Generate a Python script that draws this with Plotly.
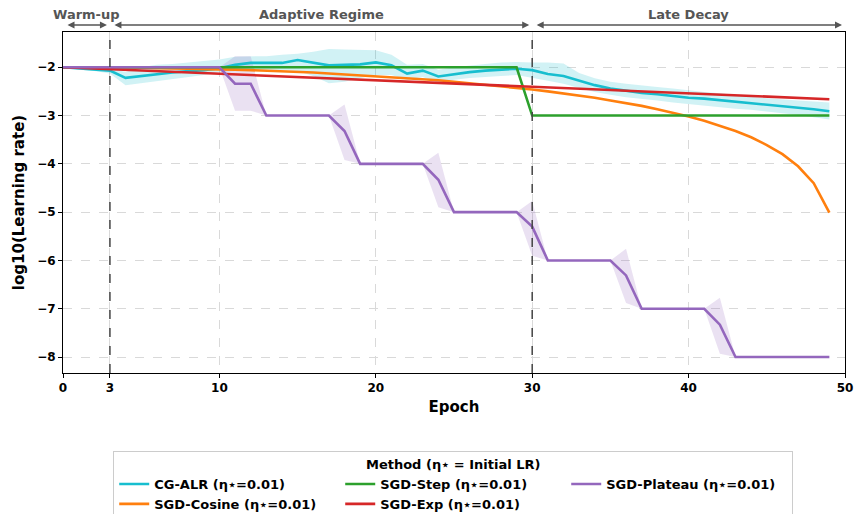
import plotly.graph_objects as go

# ---------------- data ----------------
epochs = list(range(50))

cg_alr = [-2.00, -2.02, -2.04, -2.07, -2.22, -2.18, -2.14, -2.11, -2.08, -2.06,
          -2.02, -1.95, -1.91, -1.91, -1.91, -1.85, -1.90, -1.96, -1.95, -1.94,
          -1.90, -1.96, -2.13, -2.07, -2.19, -2.14, -2.10, -2.07, -2.05, -2.03,
          -2.06, -2.14, -2.18, -2.27, -2.37, -2.44, -2.49, -2.53, -2.56, -2.60,
          -2.63, -2.65, -2.68, -2.71, -2.74, -2.77, -2.80, -2.83, -2.87, -2.91]
cg_upper = [-1.98, -1.98, -1.99, -2.02, -2.10, -2.00, -1.95, -1.93, -1.90, -1.87,
            -1.84, -1.78, -1.78, -1.77, -1.74, -1.72, -1.68, -1.62, -1.63, -1.64,
            -1.65, -1.74, -1.95, -1.93, -2.05, -2.00, -1.96, -1.93, -1.90, -1.89,
            -1.90, -1.90, -1.92, -2.12, -2.23, -2.30, -2.34, -2.38, -2.41, -2.44,
            -2.48, -2.51, -2.54, -2.58, -2.61, -2.64, -2.67, -2.69, -2.71, -2.73]
cg_lower = [-2.02, -2.05, -2.08, -2.13, -2.37, -2.33, -2.28, -2.24, -2.20, -2.16,
            -2.10, -2.08, -2.05, -2.06, -2.06, -2.08, -2.18, -2.33, -2.30, -2.22,
            -2.16, -2.16, -2.26, -2.20, -2.32, -2.26, -2.22, -2.20, -2.18, -2.16,
            -2.22, -2.28, -2.34, -2.43, -2.51, -2.57, -2.62, -2.66, -2.69, -2.73,
            -2.76, -2.79, -2.83, -2.86, -2.88, -2.91, -2.95, -2.99, -3.03, -3.08]

sgd_cosine = [-2.00, -2.00, -2.00, -2.00, -2.01, -2.01, -2.02, -2.02, -2.03, -2.04,
              -2.04, -2.05, -2.06, -2.07, -2.09, -2.10, -2.11, -2.13, -2.15, -2.16,
              -2.18, -2.20, -2.23, -2.25, -2.27, -2.30, -2.33, -2.36, -2.39, -2.43,
              -2.46, -2.50, -2.54, -2.59, -2.63, -2.69, -2.74, -2.80, -2.87, -2.94,
              -3.02, -3.11, -3.21, -3.32, -3.45, -3.61, -3.80, -4.05, -4.40, -5.01]

sgd_step = [-2.0] * 30 + [-3.0] * 20

sgd_exp = [-2.000, -2.013, -2.027, -2.040, -2.054, -2.067, -2.081, -2.094, -2.108, -2.121,
           -2.135, -2.148, -2.162, -2.175, -2.189, -2.202, -2.216, -2.229, -2.243, -2.256,
           -2.270, -2.283, -2.297, -2.310, -2.324, -2.337, -2.351, -2.364, -2.378, -2.391,
           -2.405, -2.418, -2.432, -2.445, -2.459, -2.472, -2.486, -2.499, -2.513, -2.526,
           -2.540, -2.553, -2.567, -2.580, -2.594, -2.607, -2.621, -2.634, -2.648, -2.661]

sgd_plateau = [-2.00, -2.00, -2.00, -2.00, -2.00, -2.00, -2.00, -2.00, -2.00, -2.00,
               -2.00, -2.34, -2.34, -3.00, -3.00, -3.00, -3.00, -3.00, -3.32, -4.00,
               -4.00, -4.00, -4.00, -4.00, -4.33, -5.00, -5.00, -5.00, -5.00, -5.00,
               -5.30, -6.00, -6.00, -6.00, -6.00, -6.00, -6.31, -7.00, -7.00, -7.00,
               -7.00, -7.00, -7.33, -8.00, -8.00, -8.00, -8.00, -8.00, -8.00, -8.00]
pl_upper = [-2.00, -2.00, -2.00, -2.00, -2.00, -2.00, -2.00, -2.00, -2.00, -2.00,
            -2.00, -1.77, -1.77, -3.00, -3.00, -3.00, -3.00, -3.00, -2.77, -4.00,
            -4.00, -4.00, -4.00, -4.00, -3.77, -5.00, -5.00, -5.00, -5.00, -5.00,
            -4.77, -6.00, -6.00, -6.00, -6.00, -6.00, -5.76, -7.00, -7.00, -7.00,
            -7.00, -7.00, -6.77, -8.00, -8.00, -8.00, -8.00, -8.00, -8.00, -8.00]
pl_lower = [-2.00, -2.00, -2.00, -2.00, -2.00, -2.00, -2.00, -2.00, -2.00, -2.00,
            -2.00, -2.90, -2.90, -3.00, -3.00, -3.00, -3.00, -3.00, -3.92, -4.00,
            -4.00, -4.00, -4.00, -4.00, -4.90, -5.00, -5.00, -5.00, -5.00, -5.00,
            -5.90, -6.00, -6.00, -6.00, -6.00, -6.00, -6.88, -7.00, -7.00, -7.00,
            -7.00, -7.00, -7.93, -8.00, -8.00, -8.00, -8.00, -8.00, -8.00, -8.00]

x_ticks = [0, 3, 10, 20, 30, 40, 50]
y_ticks = [-2, -3, -4, -5, -6, -7, -8]
phase_bounds = [3, 30]
phases = [("Warm-up", 0, 3), ("Adaptive Regime", 3, 30), ("Late Decay", 30, 50)]

# ---------------- figure ----------------
FONT = "DejaVu Sans"
fig = go.Figure()


def band(lo, hi, color):
    fig.add_trace(go.Scatter(x=epochs + epochs[::-1], y=hi + lo[::-1], fill="toself",
                             fillcolor=color, line=dict(width=0), mode="lines",
                             showlegend=False, hoverinfo="skip"))


band(cg_lower, cg_upper, "rgba(23,190,207,0.2)")
band(pl_lower, pl_upper, "rgba(148,103,189,0.2)")

series = [
    ("CG-ALR (η⋆=0.01)", cg_alr, "#17becf", 1),
    ("SGD-Cosine (η⋆=0.01)", sgd_cosine, "#ff7f0e", 4),
    ("SGD-Step (η⋆=0.01)", sgd_step, "#2ca02c", 2),
    ("SGD-Exp (η⋆=0.01)", sgd_exp, "#d62728", 5),
    ("SGD-Plateau (η⋆=0.01)", sgd_plateau, "#9467bd", 3),
]
for name, ys, col, rank in series:
    fig.add_trace(go.Scatter(x=epochs, y=ys, mode="lines", name=name,
                             line=dict(color=col, width=2.6), legendrank=rank))

for b in phase_bounds:
    fig.add_shape(type="line", xref="x", yref="paper", x0=b, x1=b, y0=0, y1=1,
                  line=dict(color="#444444", width=1.5, dash="dash"))

for label, a, b in phases:
    fig.add_annotation(x=b, y=1.0205, xref="x", yref="paper", ax=a, ay=0,
                       axref="x", ayref="pixel", text="", showarrow=True,
                       arrowside="end+start", arrowhead=2, arrowsize=1,
                       arrowwidth=1.4, arrowcolor="#555555", standoff=3,
                       startstandoff=3)
    fig.add_annotation(x=(a + b) / 2, y=1.05, xref="x", yref="paper",
                       text=label, showarrow=False, yanchor="middle",
                       font=dict(family=FONT, size=13, color="#555555", weight="bold"))

fig.update_layout(
    width=855, height=514,
    margin=dict(l=63, r=10, t=32, b=141, autoexpand=False),
    plot_bgcolor="white", paper_bgcolor="white",
    font=dict(family=FONT, size=12, color="black"),
    showlegend=True,
    legend=dict(orientation="h", x=0.499, xanchor="center", y=-0.229, yanchor="top",
                entrywidth=181, entrywidthmode="pixels", tracegroupgap=0,
                bordercolor="#cccccc", borderwidth=1, bgcolor="white",
                font=dict(family=FONT, size=13, weight="bold"),
                title=dict(text="Method (η⋆ = Initial LR)", side="top center",
                           font=dict(family=FONT, size=13, weight="bold"))),
)
fig.update_xaxes(range=[0, 50], tickvals=x_ticks, ticks="outside", ticklen=4,
                 tickcolor="black", showline=True, linecolor="black", linewidth=1,
                 mirror=True, showgrid=True, gridcolor="#d9d9d9", griddash="dash",
                 gridwidth=1, zeroline=False, automargin=False,
                 tickfont=dict(family=FONT, size=12, weight="bold"),
                 title=dict(text="Epoch", standoff=7,
                            font=dict(family=FONT, size=15, weight="bold")))
fig.update_yaxes(range=[-8.33, -1.27], tickvals=y_ticks, ticks="outside", ticklen=4,
                 tickcolor="black", showline=True, linecolor="black", linewidth=1,
                 mirror=True, showgrid=True, gridcolor="#d9d9d9", griddash="dash",
                 gridwidth=1, zeroline=False, automargin=False,
                 tickfont=dict(family=FONT, size=12, weight="bold"),
                 title=dict(text="log10(Learning rate)", standoff=8,
                            font=dict(family=FONT, size=15, weight="bold")))

fig.write_html("out.html")
